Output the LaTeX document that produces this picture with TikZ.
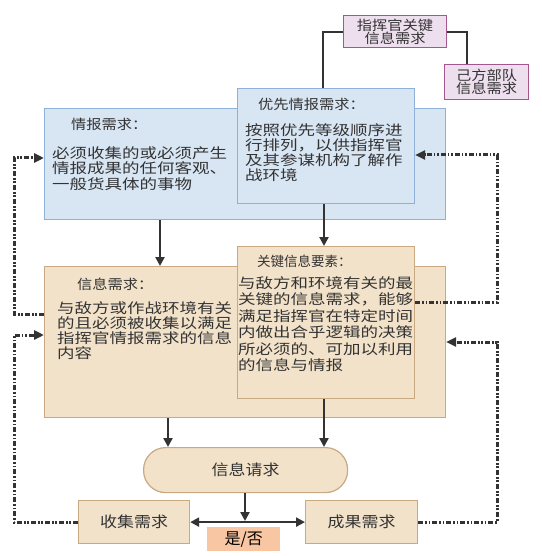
\documentclass[tikz,border=0pt]{standalone}
\usepackage{fontspec}
\usetikzlibrary{arrows.meta}
\newfontfamily\cjkwide[FakeStretch=1.25]{Noto Sans CJK SC}
\newfontfamily\cjkmid[FakeStretch=1.13]{Noto Sans CJK SC}
\newfontfamily\cjkplain{Noto Sans CJK SC}
\definecolor{bluefill}{HTML}{D8E5F3}
\definecolor{blueline}{HTML}{8FB0D8}
\definecolor{tanfill}{HTML}{F2E2CA}
\definecolor{tanline}{HTML}{C8A982}
\definecolor{pinkfill}{HTML}{EEDFEE}
\definecolor{pinkline}{HTML}{A4568F}
\definecolor{yesfill}{HTML}{F8C6A3}
\definecolor{txt}{HTML}{333333}
\definecolor{linec}{HTML}{333333}
\tikzset{
  boxbase/.style={draw, line width=1.2pt, inner sep=0pt, anchor=north west},
  bluebox/.style={boxbase, fill=bluefill, draw=blueline},
  tanbox/.style={boxbase, fill=tanfill, draw=tanline},
  pinkbox/.style={boxbase, fill=pinkfill, draw=pinkline, align=center, text=txt,
     font=\cjkmid\fontsize{13.5}{13}\selectfont},
  smallbox/.style={boxbase, fill=tanfill, draw=tanline, text=txt,
     font=\cjkmid\fontsize{15}{15}\selectfont},
  titletext/.style={anchor=north west, inner sep=0pt, text=txt,
     font=\cjkmid\fontsize{13.5}{14}\selectfont},
  bodytext/.style={anchor=north west, inner sep=0pt, align=left, text=txt},
  conn/.style={draw=linec, line width=2pt},
  arr/.style={draw=linec, line width=2.4pt, -{Triangle[length=9pt,width=9pt]}},
  dashtip/.style={draw=linec, line width=3pt,
     dash pattern=on 5pt off 1.8pt on 1.8pt off 1.8pt on 1.8pt off 1.8pt,
     -{Triangle[length=10pt,width=9pt]}}
}
\begin{document}
\begin{tikzpicture}[x=1pt,y=-1pt]
\fill[white] (0,0) rectangle (541,556);
\useasboundingbox (0,0) rectangle (541,556);

% top pink boxes
\node[pinkbox, minimum width=103pt, minimum height=32pt] (zhh) at (343,15) {指挥官关键\\信息需求};
\node[pinkbox, minimum width=84pt, minimum height=35pt] (jfbd) at (444,64) {己方部队\\信息需求};

% blue boxes
\node[bluebox, minimum width=401pt, minimum height=111pt] (qbxq) at (44,108) {};
\node[bluebox, minimum width=177pt, minimum height=115pt] (yxqb) at (237,88) {};

% tan boxes
\node[tanbox, minimum width=401pt, minimum height=151pt] (xxxq) at (44,266) {};
\node[tanbox, minimum width=177pt, minimum height=152pt] (gjxx) at (237,246) {};

% texts
\node[titletext] (qbt) at (71,118) {情报需求：};
\node[bodytext, font=\cjkwide\fontsize{14}{15.5}\selectfont] (qbb) at (52,146)
  {必须收集的或必须产生\\情报成果的任何客观、\\一般货具体的事物};
\node[titletext] (yxt) at (258,98) {优先情报需求：};
\node[bodytext, font=\cjkwide\fontsize{14}{15}\selectfont] (yxb) at (245,123.5)
  {按照优先等级顺序进\\行排列，以供指挥官\\及其参谋机构了解作\\战环境};
\node[titletext] (xxt) at (77,278) {信息需求：};
\node[bodytext, font=\cjkwide\fontsize{14}{15}\selectfont] (xxb) at (57,301.5)
  {与敌方或作战环境有关\\的且必须被收集以满足\\指挥官情报需求的信息\\内容};
\node[titletext, font=\cjkplain\fontsize{13.5}{14}\selectfont] (gjt) at (257,255) {关键信息要素：};
\node[bodytext, font=\cjkwide\fontsize{14}{16.4}\selectfont] (gjb) at (238,276.5)
  {与敌方和环境有关的最\\关键的信息需求，能够\\满足指挥官在特定时间\\内做出合乎逻辑的决策\\所必须的、可加以利用\\的信息与情报};

% lower nodes
\node[smallbox, minimum width=204pt, minimum height=45pt, rounded corners=22pt] (xxqq) at (143,447) {信息请求};
\node[smallbox, minimum width=111pt, minimum height=43pt] (sjxq) at (78,500) {收集需求};
\node[smallbox, minimum width=112pt, minimum height=43pt] (cgxq) at (305,500) {成果需求};
\node[anchor=north west, inner sep=0pt, fill=yesfill, minimum width=73pt, minimum height=24pt,
  font=\cjkplain\fontsize{16}{16}\selectfont, text=black] (sf) at (207,527) {是/否};

% helper coordinates
\coordinate (t1) at (323,0);
\coordinate (t2) at (467,0);
\coordinate (a1) at (160,0);
\coordinate (a2) at (324,0);
\coordinate (a3) at (168,0);
\coordinate (a4) at (245,0);
\coordinate (hm) at (245,521);
\coordinate (L1) at (14,335);
\coordinate (L2a) at (14,314);
\coordinate (L2b) at (14,158);
\coordinate (R1a) at (497,302);
\coordinate (R1b) at (497,155);
\coordinate (R2) at (497,342);

% top connectors
\draw[conn] (zhh.west) -| (yxqb.north -| t1);
\draw[conn] (zhh.east) -| (jfbd.north -| t2);

% solid arrows
\draw[arr] (qbxq.south -| a1) -- (xxxq.north -| a1);
\draw[arr] (yxqb.south -| a2) -- (gjxx.north -| a2);
\draw[arr] (xxxq.south -| a3) -- (xxqq.north -| a3);
\draw[arr] (gjxx.south -| a2) -- (xxqq.north -| a2);
\draw[arr] (xxqq.south -| a4) -- (hm);
\draw[draw=linec, line width=2.4pt, {Triangle[length=9pt,width=9pt]}-{Triangle[length=9pt,width=9pt]}]
  (sjxq.east) -- (cgxq.west);

% dashed feedback
\draw[dashtip] (sjxq.west) -| (L1) -- (xxxq.west |- L1);
\draw[dashtip] (xxxq.west |- L2a) -- (L2a) -- (L2b) -- (qbxq.west |- L2b);
\draw[dashtip] (gjxx.east |- R1a) -- (R1a) -- (R1b) -- (yxqb.east |- R1b);
\draw[dashtip] (cgxq.east) -| (R2) -- (xxxq.east |- R2);
\end{tikzpicture}
\end{document}
